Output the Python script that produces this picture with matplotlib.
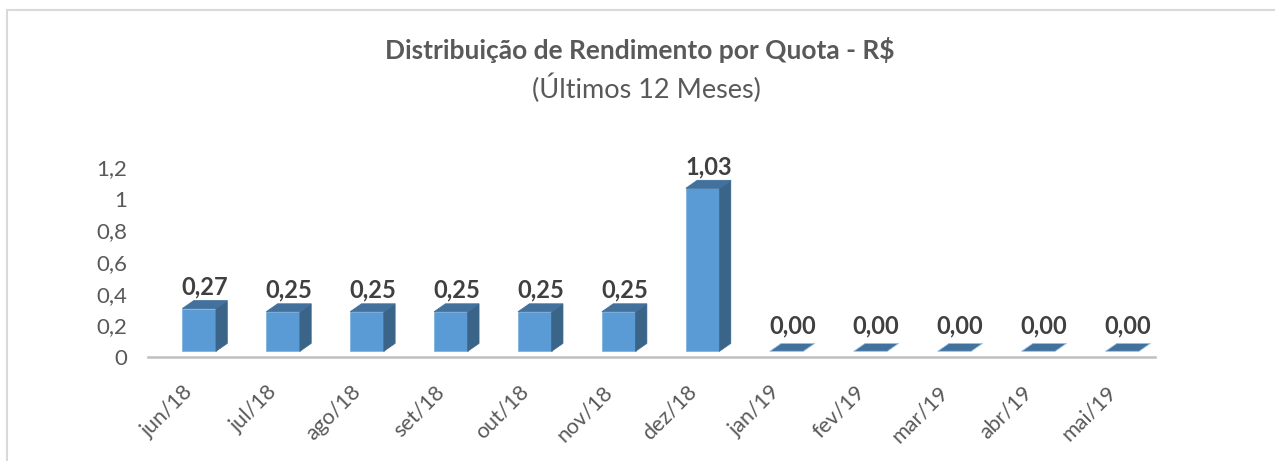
import matplotlib
matplotlib.use("Agg")
import matplotlib.pyplot as plt
from matplotlib.patches import Polygon, Rectangle

categories = ["jun/18", "jul/18", "ago/18", "set/18", "out/18", "nov/18",
              "dez/18", "jan/19", "fev/19", "mar/19", "abr/19", "mai/19"]
values = [0.27, 0.25, 0.25, 0.25, 0.25, 0.25, 1.03, 0.00, 0.00, 0.00, 0.00, 0.00]
value_labels = ["0,27", "0,25", "0,25", "0,25", "0,25", "0,25", "1,03",
                "0,00", "0,00", "0,00", "0,00", "0,00"]
yticks = [0, 0.2, 0.4, 0.6, 0.8, 1.0, 1.2]
ytick_labels = ["0", "0,2", "0,4", "0,6", "0,8", "1", "1,2"]

plt.rcParams['font.family'] = ['Lato', 'DejaVu Sans']

W, H = 1275, 461
fig = plt.figure(figsize=(W / 100, H / 100), dpi=100)
fig.patch.set_facecolor("white")

x0, x1 = 148, 1155
y0 = 357
ppu = 158.3
ymax = 1.25
ax = fig.add_axes([x0 / W, (H - y0) / H, (x1 - x0) / W, ymax * ppu / H])
ax.set_xlim(-0.5, len(categories) - 0.5)
ax.set_ylim(0, ymax)

front = "#5B9BD5"
side = "#3A6488"
top = "#41719C"

w = 0.40      # front face width (category units)
dx = 0.135    # depth offset x
dy = 0.05     # depth offset y (value units)
base = 0.036  # floor offset
left_off = -0.09

for i, v in enumerate(values):
    l = i + left_off
    r = l + w
    b = base
    t = base + v
    if v > 0:
        ax.add_patch(Rectangle((l, b), w, v, facecolor=front, edgecolor="#7FB2E0",
                               lw=0.6, zorder=3))
        ax.add_patch(Polygon([(r, b), (r + dx, b + dy), (r + dx, t + dy), (r, t)],
                             closed=True, facecolor=side, edgecolor=side, lw=0.5, zorder=3))
    ax.add_patch(Polygon([(l, t), (r, t), (r + dx, t + dy), (l + dx, t + dy)],
                         closed=True, facecolor=top,
                         edgecolor="#9CC3E6" if v == 0 else top, lw=0.6, zorder=4))
    off = 0.11 if v == 0 else 0.085
    ax.text(l + (w + dx) / 2, t + dy + off, value_labels[i], ha="center", va="center",
            fontsize=17, fontweight="bold", color="#404040", zorder=5, clip_on=False)

for s in ["top", "right", "left"]:
    ax.spines[s].set_visible(False)
ax.spines["bottom"].set_color("#BFBFBF")
ax.spines["bottom"].set_linewidth(1.8)

ax.set_yticks(yticks)
ax.set_yticklabels(ytick_labels, fontsize=16, color="#595959")
ax.tick_params(axis="y", length=0, pad=15)

ax.set_xticks(range(len(categories)))
ax.set_xticklabels(categories, fontsize=15.5, color="#595959", rotation=45,
                   ha="right", va="center", rotation_mode="anchor")
ax.tick_params(axis="x", length=0, pad=23)
ax.patch.set_alpha(0)

fig.text(640 / W, 1 - 50 / H, "Distribuição de Rendimento por Quota - R$",
         ha="center", va="center", fontsize=19, fontweight="bold", color="#595959")
fig.text(646 / W, 1 - 88 / H, "(Últimos 12 Meses)", ha="center", va="center",
         fontsize=19.5, color="#595959")

fig.add_artist(Rectangle((7 / W, -0.1), 1.2, 1 - 10 / H + 0.1, transform=fig.transFigure,
                         fill=False, edgecolor="#D9D9D9", lw=1.5))

fig.savefig("out.png", dpi=100, facecolor="white")
